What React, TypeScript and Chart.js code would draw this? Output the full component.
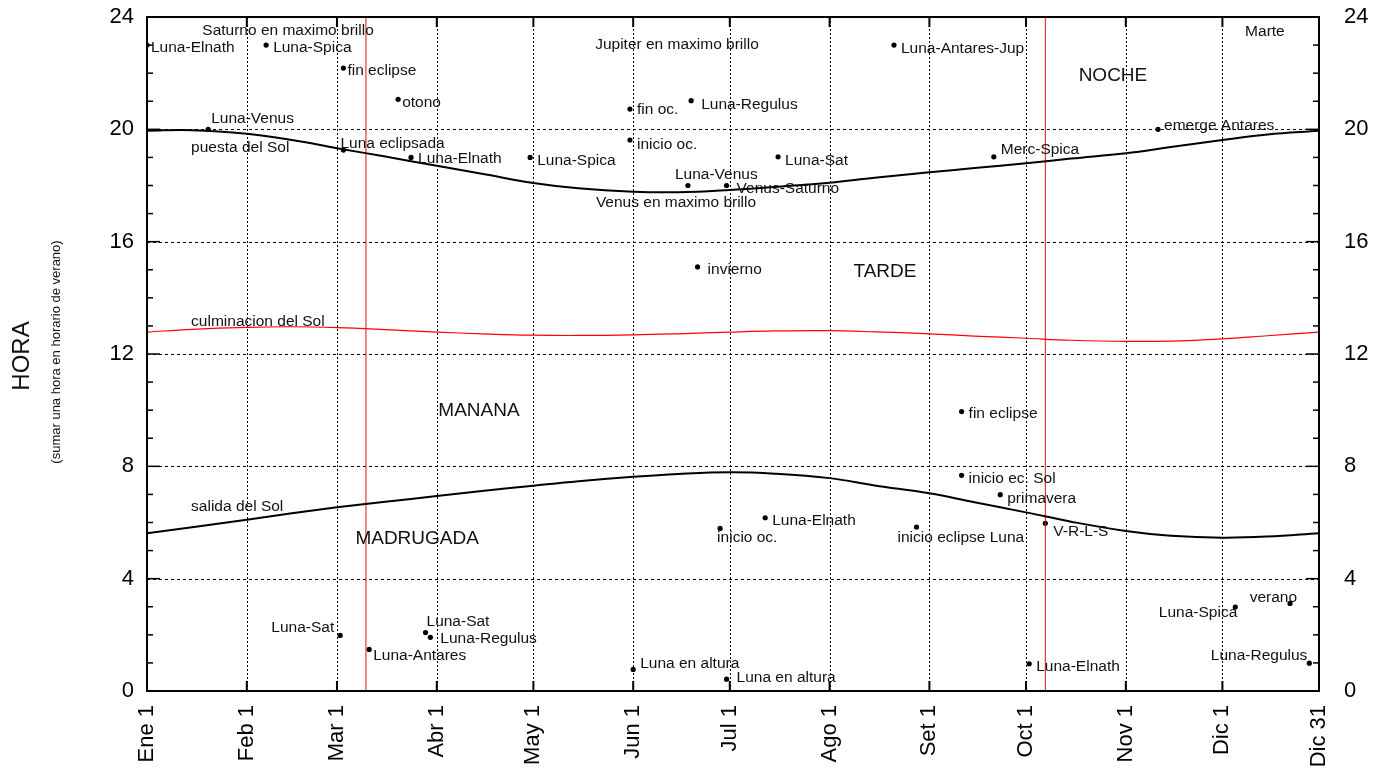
import React, { useEffect, useRef } from "react";
import { Chart, registerables } from "chart.js";

Chart.register(...registerables);

// ---------- data ----------
const monthTickDays = [1, 32, 60, 91, 121, 152, 182, 213, 244, 274, 305, 335, 365];
const monthTickLabels = ["Ene 1", "Feb 1", "Mar 1", "Abr 1", "May 1", "Jun 1", "Jul 1", "Ago 1", "Set 1", "Oct 1", "Nov 1", "Dic 1", "Dic 31"];
const hourMin = 0;
const hourMax = 24;
const hourStep = 4;

const curveDays = [1, 15, 32, 46, 60, 75, 91, 105, 121, 135, 152, 166, 182, 196, 213, 227, 244, 258, 274, 288, 305, 319, 335, 349, 365];
const sunsetHours = [19.95, 19.97, 19.84, 19.62, 19.33, 19.03, 18.70, 18.42, 18.09, 17.90, 17.78, 17.76, 17.84, 17.95, 18.10, 18.28, 18.47, 18.62, 18.79, 18.96, 19.15, 19.37, 19.62, 19.82, 19.95];
const noonHours = [12.78, 12.88, 12.95, 12.97, 12.94, 12.87, 12.78, 12.72, 12.67, 12.66, 12.68, 12.72, 12.78, 12.82, 12.83, 12.79, 12.72, 12.64, 12.56, 12.49, 12.45, 12.46, 12.54, 12.65, 12.78];
const sunriseHours = [5.62, 5.83, 6.10, 6.33, 6.54, 6.74, 6.94, 7.12, 7.31, 7.47, 7.63, 7.73, 7.79, 7.74, 7.58, 7.32, 7.04, 6.72, 6.36, 6.03, 5.70, 5.53, 5.46, 5.50, 5.62];

const dstChangeDays = [69, 280];

const eventDays = [1, 38, 62, 79, 20, 62, 83, 120, 151, 151, 170, 197, 169, 181, 233, 264, 315, 172, 254, 254, 266, 280, 193, 179, 240, 152, 181, 275, 61, 70, 87.5, 89, 339, 356, 362];
const eventHours = [23.0, 23.0, 22.18, 21.07, 20.0, 19.26, 19.0, 19.0, 20.72, 19.62, 21.02, 19.02, 18.0, 18.0, 23.0, 19.02, 20.0, 15.1, 9.95, 7.68, 6.99, 5.97, 6.17, 5.79, 5.84, 0.77, 0.42, 0.97, 1.98, 1.48, 2.08, 1.91, 2.99, 3.12, 0.99];
const eventLabels = [
  "Luna-Elnath", "Luna-Spica", "fin eclipse", "otono", "Luna-Venus", "Luna eclipsada", "Luna-Elnath", "Luna-Spica",
  "fin oc.", "inicio oc.", "Luna-Regulus", "Luna-Sat", "Luna-Venus", "Venus-Saturno", "Luna-Antares-Jup", "Merc-Spica",
  "emerge Antares", "invierno", "fin eclipse", "inicio ec. Sol", "primavera", "V-R-L-S", "Luna-Elnath", "inicio oc.",
  "inicio eclipse Luna", "Luna en altura", "Luna en altura", "Luna-Elnath", "Luna-Sat", "Luna-Antares", "Luna-Sat",
  "Luna-Regulus", "Luna-Spica", "verano", "Luna-Regulus",
];
// label placement relative to its dot: [dx, dy, align]
const eventLabelPlacement: [number, number, CanvasTextAlign][] = [
  [4, 3, "left"], [7, 3, "left"], [4, 3, "left"], [4, 3, "left"], [3, -11, "left"], [-3, -6, "left"], [7, 1, "left"], [7, 3, "left"],
  [7, 1, "left"], [7, 5, "left"], [10, 4, "left"], [7, 4, "left"], [-13, -11, "left"], [10, 3, "left"], [7, 4, "left"], [7, -7, "left"],
  [6, -4, "left"], [10, 3, "left"], [7, 2, "left"], [7, 3, "left"], [7, 4, "left"], [8, 8, "left"], [7, 3, "left"], [-3, 9, "left"],
  [-19, 11, "left"], [7, -6, "left"], [10, -1, "left"], [7, 3, "left"], [-6, -8, "right"], [4, 6, "left"], [1, -11, "left"],
  [10, 1, "left"], [2, 6, "right"], [7, -6, "right"], [-2, -7, "right"],
];

const noteTexts = [
  "Saturno en maximo brillo", "Jupiter en maximo brillo", "Venus en maximo brillo", "Marte",
  "puesta del Sol", "culminacion del Sol", "salida del Sol",
  "NOCHE", "TARDE", "MANANA", "MADRUGADA",
];
const noteDays = [44.8, 165.6, 165.3, 348.2, 14.7, 14.7, 14.7, 301, 230.2, 104.1, 84.9];
const noteHours = [23.5, 23.0, 17.37, 23.46, 19.34, 13.15, 6.56, 21.91, 14.92, 9.97, 5.41];
const noteAlign: CanvasTextAlign[] = ["center", "center", "center", "center", "left", "left", "left", "center", "center", "center", "center"];
const noteKind = ["small", "small", "small", "small", "small", "small", "small", "big", "big", "big", "big"];

const yTitle = "HORA";
const ySubtitle = "(sumar una hora en horario de verano)";

// ---------- styles ----------
const FONT = '"Liberation Sans", Arial, Helvetica, sans-serif';

const overlayPlugin = {
  id: "overlay",
  beforeDatasetsDraw(chart: any) {
    const { ctx, chartArea: a, scales } = chart;
    const xs = scales.x;
    const ys = scales.y;
    ctx.save();
    ctx.strokeStyle = "#000";
    ctx.lineWidth = 1;
    // vertical grid (dotted)
    ctx.setLineDash([2, 2]);
    monthTickDays.forEach((d) => {
      const x = Math.round(xs.getPixelForValue(d)) + 0.5;
      ctx.beginPath();
      ctx.moveTo(x, a.top);
      ctx.lineTo(x, a.bottom);
      ctx.stroke();
    });
    // horizontal grid (dashed)
    ctx.setLineDash([3, 3]);
    for (let h = hourMin + hourStep; h < hourMax; h += hourStep) {
      const y = Math.round(ys.getPixelForValue(h)) + 0.5;
      ctx.beginPath();
      ctx.moveTo(a.left, y);
      ctx.lineTo(a.right, y);
      ctx.stroke();
    }
    ctx.restore();
  },
  afterDatasetsDraw(chart: any) {
    const { ctx, chartArea: a, scales } = chart;
    const xs = scales.x;
    const ys = scales.y;
    ctx.save();
    ctx.strokeStyle = "#000";
    ctx.setLineDash([]);
    // frame
    ctx.lineWidth = 2;
    ctx.strokeRect(a.left, a.top, a.right - a.left, a.bottom - a.top);
    // inward ticks
    ctx.lineWidth = 1.5;
    const seg = (x1: number, y1: number, x2: number, y2: number) => {
      ctx.beginPath();
      ctx.moveTo(x1, y1);
      ctx.lineTo(x2, y2);
      ctx.stroke();
    };
    for (let h = hourMin; h <= hourMax; h++) {
      const y = ys.getPixelForValue(h);
      const len = h % hourStep === 0 ? 13 : 6;
      seg(a.left, y, a.left + len, y);
      seg(a.right, y, a.right - len, y);
    }
    ctx.lineWidth = 2;
    monthTickDays.forEach((d) => {
      const x = xs.getPixelForValue(d);
      seg(x, a.top, x, a.top + 10);
      seg(x, a.bottom, x, a.bottom - 10);
    });

    // event labels
    ctx.fillStyle = "#111";
    ctx.textBaseline = "middle";
    ctx.font = `15.5px ${FONT}`;
    eventLabels.forEach((t, i) => {
      const [dx, dy, al] = eventLabelPlacement[i];
      const x = xs.getPixelForValue(eventDays[i]);
      const y = ys.getPixelForValue(eventHours[i]);
      ctx.textAlign = al;
      ctx.fillText(t, x + dx, y + dy);
    });

    // notes
    noteTexts.forEach((t, i) => {
      ctx.font = noteKind[i] === "big" ? `19px ${FONT}` : `15.5px ${FONT}`;
      ctx.textAlign = noteAlign[i];
      ctx.fillText(t, xs.getPixelForValue(noteDays[i]), ys.getPixelForValue(noteHours[i]));
    });

    // y titles
    const cy = (a.top + a.bottom) / 2;
    ctx.save();
    ctx.translate(22, cy + 2);
    ctx.rotate(-Math.PI / 2);
    ctx.textAlign = "center";
    ctx.font = `24px ${FONT}`;
    ctx.fillText(yTitle, 0, 0);
    ctx.restore();
    ctx.save();
    ctx.translate(56, cy - 2);
    ctx.rotate(-Math.PI / 2);
    ctx.textAlign = "center";
    ctx.font = `13px ${FONT}`;
    ctx.fillText(ySubtitle, 0, 0);
    ctx.restore();

    ctx.restore();
  },
};

export default function App() {
  const canvasRef = useRef<HTMLCanvasElement | null>(null);

  useEffect(() => {
    const canvas = canvasRef.current;
    if (!canvas) return;

    const toPts = (days: number[], hours: number[]) => days.map((d, i) => ({ x: d, y: hours[i] }));

    const datasets: any[] = [
      {
        label: "puesta del Sol",
        data: toPts(curveDays, sunsetHours),
        borderColor: "#000",
        borderWidth: 2,
        pointRadius: 0,
        tension: 0.4,
      },
      {
        label: "culminacion del Sol",
        data: toPts(curveDays, noonHours),
        borderColor: "#ff0000",
        borderWidth: 1.2,
        pointRadius: 0,
        tension: 0.4,
      },
      {
        label: "salida del Sol",
        data: toPts(curveDays, sunriseHours),
        borderColor: "#000",
        borderWidth: 2,
        pointRadius: 0,
        tension: 0.4,
      },
      ...dstChangeDays.map((d) => ({
        label: "cambio horario",
        data: [{ x: d, y: hourMin }, { x: d, y: hourMax }],
        borderColor: "#dd1111",
        borderWidth: 1,
        pointRadius: 0,
      })),
      {
        label: "eventos",
        data: toPts(eventDays, eventHours),
        showLine: false,
        pointRadius: 2.6,
        pointBackgroundColor: "#000",
        pointBorderWidth: 0,
        borderColor: "#000",
      },
    ];

    const tickFont = { family: FONT, size: 22 };
    const noPad = (s: any) => {
      s.paddingTop = 0;
      s.paddingBottom = 0;
      s.paddingLeft = 0;
      s.paddingRight = 0;
    };

    const chart = new Chart(canvas, {
      type: "line",
      data: { datasets },
      plugins: [overlayPlugin],
      options: {
        responsive: false,
        animation: false,
        events: [],
        layout: { padding: { top: 17, left: 0, right: 0, bottom: 0 } },
        plugins: { legend: { display: false }, tooltip: { enabled: false } },
        scales: {
          x: {
            type: "linear",
            min: monthTickDays[0],
            max: monthTickDays[monthTickDays.length - 1],
            afterBuildTicks: (s: any) => {
              s.ticks = monthTickDays.map((v) => ({ value: v }));
            },
            afterFit: (s: any) => {
              s.height = 79;
              noPad(s);
            },
            grid: { display: false, drawTicks: false },
            border: { display: false },
            ticks: {
              autoSkip: false,
              maxRotation: 90,
              minRotation: 90,
              padding: 14,
              color: "#000",
              font: tickFont,
              callback: (_v: any, i: number) => monthTickLabels[i],
            },
          },
          y: {
            type: "linear",
            position: "left",
            min: hourMin,
            max: hourMax,
            afterFit: (s: any) => {
              s.width = 147;
              noPad(s);
            },
            grid: { display: false, drawTicks: false },
            border: { display: false },
            ticks: { stepSize: hourStep, padding: 13, color: "#000", font: tickFont },
          },
          y2: {
            type: "linear",
            position: "right",
            min: hourMin,
            max: hourMax,
            afterFit: (s: any) => {
              s.width = 74;
              noPad(s);
            },
            grid: { display: false, drawTicks: false },
            border: { display: false },
            ticks: { stepSize: hourStep, padding: 25, color: "#000", font: tickFont },
          },
        },
      } as any,
    });

    return () => chart.destroy();
  }, []);

  return (
    <div style={{ position: "fixed", left: 0, top: 0, width: 1393, height: 770, background: "#fff" }}>
      <canvas ref={canvasRef} width={1393} height={770} style={{ display: "block" }} />
    </div>
  );
}
